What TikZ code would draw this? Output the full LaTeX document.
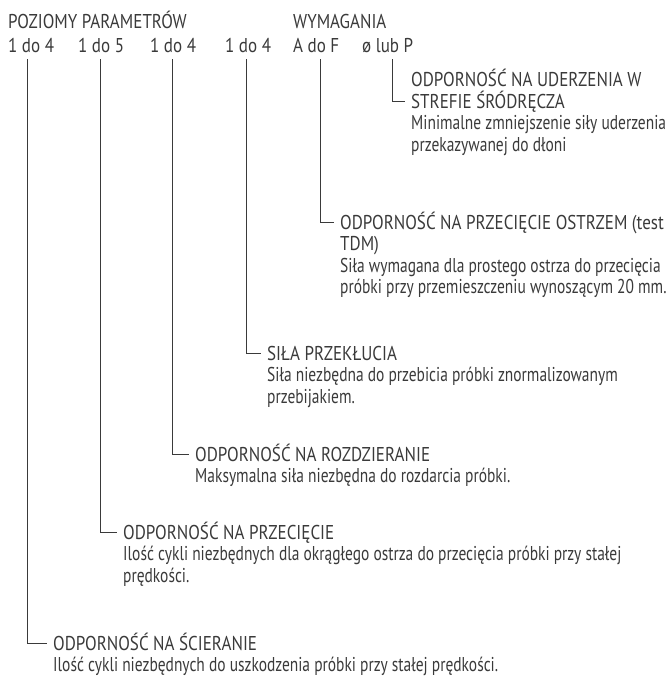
\documentclass[tikz,border=0pt]{standalone}
\usepackage{fontspec}
\setmainfont{PT Sans}[FakeStretch=0.773]
\newfontfamily\capsface{PT Sans}[FakeStretch=0.85]
\definecolor{ink}{RGB}{58,58,58}
\begin{document}
\begin{tikzpicture}[x=1pt,y=-1pt,
  lbl/.style={anchor=base west, inner sep=0pt, text=ink,
              font=\fontsize{20}{21.5}\selectfont},
  head/.style={lbl, font=\fontsize{20}{21.5}\capsface},
  lead/.style={draw=ink, line width=0.9pt, shorten >=6pt}]
\useasboundingbox (0,0) rectangle (669,676);

% column headings and value ranges
\node[head] (hdrA) at (8,29) {POZIOMY PARAMETRÓW};
\node[head] (hdrB) at (293,29) {WYMAGANIA};
\node[head] (r1) at (8,53)   {1 do 4};
\node[head] (r2) at (78,53)  {1 do 5};
\node[head] (r3) at (150,53) {1 do 4};
\node[head] (r4) at (225,53) {1 do 4};
\node[head] (r5) at (293,53) {A do F};
\node[head] (r6) at (362,53) {ø lub P};

% top ends of the leader lines
\coordinate (s1) at (27.3,59.5);
\coordinate (s2) at (100.5,59.5);
\coordinate (s3) at (172.3,59.5);
\coordinate (s4) at (246,59.5);
\coordinate (s5) at (320,59.5);
\coordinate (s6) at (392,59.5);

% impact protection
\node[head] (f1) at (411,87)    {ODPORNOŚĆ NA UDERZENIA W};
\node[head] (f2) at (411,108.5) {STREFIE ŚRÓDRĘCZA};
\node[lbl]  (f3) at (411,130)   {Minimalne zmniejszenie siły uderzenia};
\node[lbl]  (f4) at (411,151.5) {przekazywanej do dłoni};

% TDM cut resistance
\node[head] (e1) at (340,229)   {ODPORNOŚĆ NA PRZECIĘCIE OSTRZEM (test};
\node[head] (e2) at (340,250.5) {TDM)};
\node[lbl]  (e3) at (340,272)   {Siła wymagana dla prostego ostrza do przecięcia};
\node[lbl]  (e4) at (340,293.5) {próbki przy przemieszczeniu wynoszącym 20 mm.};

% puncture
\node[head] (d1) at (267,360)   {SIŁA PRZEKŁUCIA};
\node[lbl]  (d2) at (267,381.5) {Siła niezbędna do przebicia próbki znormalizowanym};
\node[lbl]  (d3) at (267,403)   {przebijakiem.};

% tear
\node[head] (c1) at (195,461)   {ODPORNOŚĆ NA ROZDZIERANIE};
\node[lbl]  (c2) at (195,482.5) {Maksymalna siła niezbędna do rozdarcia próbki.};

% blade cut
\node[head] (b1) at (123,539)   {ODPORNOŚĆ NA PRZECIĘCIE};
\node[lbl]  (b2) at (123,560.5) {Ilość cykli niezbędnych dla okrągłego ostrza do przecięcia próbki przy stałej};
\node[lbl]  (b3) at (123,582)   {prędkości.};

% abrasion
\node[head] (a1) at (53,650)    {ODPORNOŚĆ NA ŚCIERANIE};
\node[lbl]  (a2) at (53,671.5)  {Ilość cykli niezbędnych do uszkodzenia próbki przy stałej prędkości.};

% leader lines
\draw[lead] (s1) |- ([yshift=7pt]a1.base west);
\draw[lead] (s2) |- ([yshift=7pt]b1.base west);
\draw[lead] (s3) |- ([yshift=7pt]c1.base west);
\draw[lead] (s4) |- ([yshift=7pt]d1.base west);
\draw[lead] (s5) |- ([yshift=7pt]e1.base west);
\draw[lead] (s6) |- ([yshift=7pt]f2.base west);
\end{tikzpicture}
\end{document}
